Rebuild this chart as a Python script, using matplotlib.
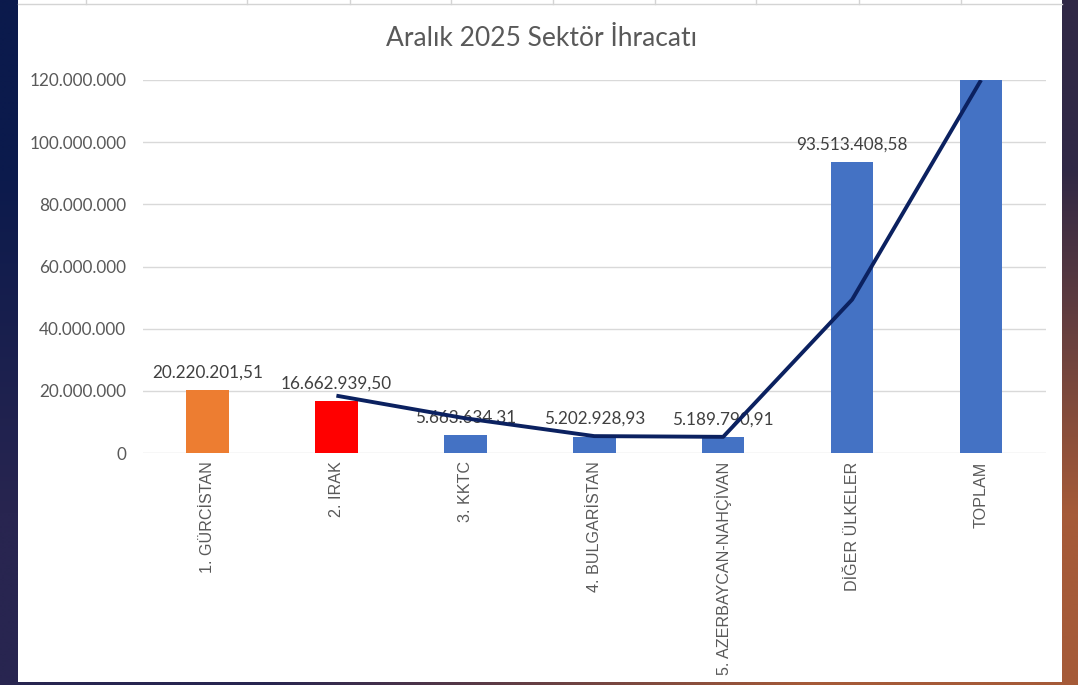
import numpy as np
import matplotlib.pyplot as plt
from matplotlib.colors import to_rgb

# Data
categories = ["1. GÜRCİSTAN", "2. IRAK", "3. KKTC", "4. BULGARİSTAN",
              "5. AZERBAYCAN-NAHÇİVAN", "DİĞER ÜLKELER", "TOPLAM"]
values = [20220201.51, 16662939.50, 5663634.31, 5202928.93,
          5189790.91, 93513408.58, 146452903.74]
value_labels = ["20.220.201,51", "16.662.939,50", "5.663.634.31", "5.202.928,93",
                "5.189.790,91", "93.513.408,58", ""]
# 2-period moving average trend line (starts at second category)
trend = [np.nan, 18441570.5, 11163286.9, 5433281.6, 5196359.9, 49351599.7, 119983156.2]
bar_colors = ["#ED7D31", "#FF0000", "#4472C4", "#4472C4", "#4472C4", "#4472C4", "#4472C4"]
yticks = [0, 20e6, 40e6, 60e6, 80e6, 100e6, 120e6]
ytick_labels = ["0", "20.000.000", "40.000.000", "60.000.000",
                "80.000.000", "100.000.000", "120.000.000"]

W, H = 1078, 685
fig = plt.figure(figsize=(W / 100, H / 100), dpi=100)

# background gradient behind the white chart panel
bg = fig.add_axes([0, 0, 1, 1], zorder=-10)
corners = np.array([[to_rgb("#0b1a4c"), to_rgb("#302845")],
                    [to_rgb("#282550"), to_rgb("#a55a38")]])
bg.imshow(corners, interpolation="bilinear", aspect="auto", extent=[0, 1, 0, 1])
bg.add_patch(plt.Rectangle((18 / W, 1 - 682 / H), (1062 - 18) / W, 682 / H,
                           facecolor="white", edgecolor="none"))
# spreadsheet cell borders peeking in at the top
bg.plot([18 / W, 1062 / W], [1 - 3.5 / H] * 2, color="#d4d4d4", lw=1)
for cx in [86, 247, 350, 451, 553, 655, 756, 859, 961]:
    bg.plot([cx / W, cx / W], [1, 1 - 3.5 / H], color="#d4d4d4", lw=1)
bg.set_xlim(0, 1)
bg.set_ylim(0, 1)
bg.axis("off")

ax = fig.add_axes([143 / W, 1 - 453 / H, 902.5 / W, 373 / H])
x = np.arange(len(categories))
bars = ax.bar(x, values, width=0.33, color=bar_colors, zorder=2)
ax.set_xlim(-0.5, len(categories) - 0.5)
ax.set_ylim(0, 120e6)

for xi, v, lab in zip(x, values, value_labels):
    if lab:
        ax.annotate(lab, (xi, v), xytext=(0, 7), textcoords="offset points",
                    ha="center", va="bottom", fontsize=12.3, family="Lato",
                    color="#404040", zorder=3)

ax.plot(x, trend, color="#0b2160", lw=2.8, zorder=4, solid_capstyle="butt")

ax.set_yticks(yticks)
ax.set_yticklabels(ytick_labels, fontsize=12.3, family="Lato", color="#595959")
ax.set_xticks(x)
ax.set_xticklabels(categories, rotation=90, fontsize=11.6,
                   family="Liberation Sans", color="#595959", va="top")
ax.tick_params(axis="y", length=0, pad=12)
ax.tick_params(axis="x", length=0, pad=6)
ax.grid(axis="y", color="#d9d9d9", lw=1, zorder=0)
ax.set_axisbelow(True)
for s in ax.spines.values():
    s.set_visible(False)
ax.patch.set_alpha(0)

fig.text(542 / W, 1 - 38 / H, "Aralık 2025 Sektör İhracatı", ha="center", va="center",
         fontsize=19, family="Lato", color="#595959")

fig.savefig("out.png", dpi=100)
